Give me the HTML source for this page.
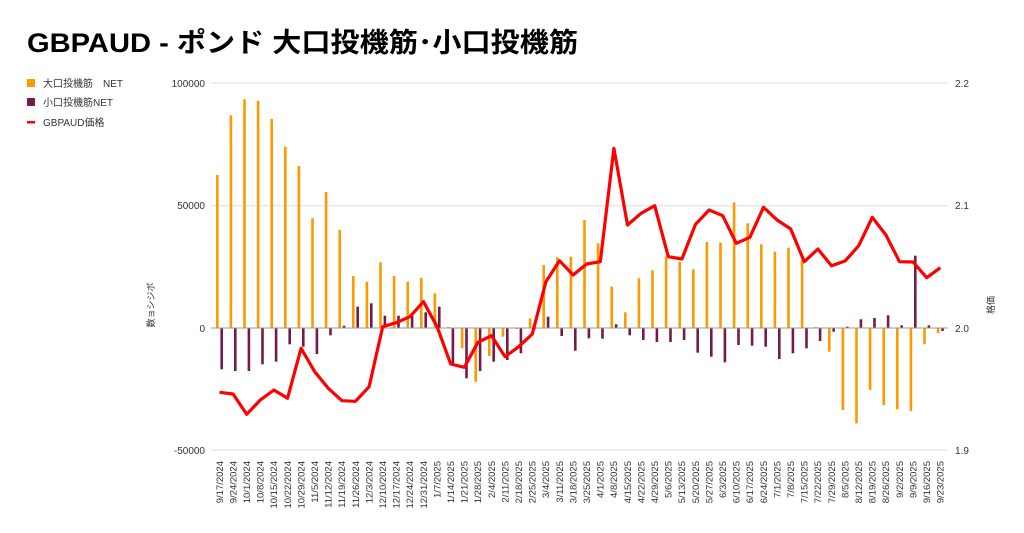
<!DOCTYPE html>
<html><head><meta charset="utf-8"><style>
body{margin:0;background:#fff;}
svg{display:block;font-family:"Liberation Sans","Noto Sans CJK JP",sans-serif;}
</style></head><body>
<svg id="s" width="1024" height="533" viewBox="0 0 1024 533" xmlns="http://www.w3.org/2000/svg">
<rect width="1024" height="533" fill="#fff"/>
<text x="27" y="52" font-size="27" font-weight="bold" fill="#000" textLength="551" lengthAdjust="spacingAndGlyphs">GBPAUD - ポンド 大口投機筋･小口投機筋</text>
<rect x="27" y="79" width="8" height="8" fill="#ff9900"/>
<text x="43" y="87" font-size="10" fill="#333">大口投機筋　NET</text>
<rect x="27" y="98" width="8" height="8" fill="#741b47"/>
<text x="43" y="106" font-size="10" fill="#333">小口投機筋NET</text>
<rect x="27" y="121" width="8" height="2.5" fill="#ff0000"/>
<text x="43" y="126" font-size="10" fill="#333">GBPAUD価格</text>
<g stroke="#ddd" stroke-width="1">
<line x1="211" x2="948" y1="83" y2="83"/>
<line x1="211" x2="948" y1="205.7" y2="205.7"/>
<line x1="211" x2="948" y1="450" y2="450"/>
</g>
<g font-size="10" fill="#333" text-anchor="end">
<text x="205" y="87">100000</text><text x="205" y="209">50000</text><text x="205" y="332">0</text><text x="205" y="454">-50000</text>
</g>
<g font-size="10" fill="#333">
<text x="955" y="87">2.2</text><text x="955" y="209">2.1</text><text x="955" y="332">2.0</text><text x="955" y="454">1.9</text>
</g>
<text transform="translate(154,305) rotate(-90)" font-size="9" fill="#333" text-anchor="middle">数ョシジボ</text>
<text transform="translate(994,305) rotate(-90)" font-size="9" fill="#333" text-anchor="middle">格価</text>
<g id="bars"></g>
<line x1="211" x2="948" y1="328" y2="328" stroke="#999" stroke-width="1"/>
<polyline id="ln" fill="none" stroke="#ff0000" stroke-width="3.2" stroke-linejoin="round"/>
<g id="lab" font-size="9.5" fill="#333" text-anchor="end"></g>
</svg>
<script>
var O=[175,115.3,99.3,100.7,119,146.7,166,218.3,192,230,276,281.7,262.3,276,281.7,277.7,293.3,327,348.3,381.7,356,336.7,329,318.3,265,257.3,256.7,220,243.3,286.7,312.3,278.3,270.3,256.7,262,269.3,242,242.7,202.3,223.3,244.3,251.7,247.7,260,327,351.7,410,423.3,390,405,409.3,411,344.3,333.3];
var P=[369.3,371,371,364.3,361.7,344.3,346.7,354,335.3,325.7,306.7,303.3,315.7,315.7,315.7,312.3,306.7,363.3,378.3,371,361.7,360,353.3,329,316.7,336,350.7,338.3,338.7,324.3,335.3,340,342,342,340,352.7,356.7,362.3,345,345.7,346.7,359,353.3,348.3,341,331.7,326.7,319.3,318,315.3,325.3,255.7,325.3,331];
var L=[392.3,394,414.3,400,390,398.3,348.3,371.7,388.3,400.7,401.3,386.7,326.7,322.7,316.7,301.7,326.7,364,367.3,342.3,335.7,356.7,346.7,334,281.7,260.7,275,264,261.7,148.3,225,213.3,205.7,256.7,259,224.3,210,215.7,243.3,237.3,207.3,220,229,261.7,249,265.7,261,245.7,217.3,235,261.7,262,277.7,267.7];
var ns="http://www.w3.org/2000/svg",b=document.getElementById('bars'),lab=document.getElementById('lab');
var d0=new Date(2024,8,17),pts=[];
function r(x,y,c){var e=document.createElementNS(ns,'rect');var t=Math.min(y,328),h=Math.max(Math.abs(y-328),0.6);e.setAttribute('x',x-1.3);e.setAttribute('y',t);e.setAttribute('width',2.6);e.setAttribute('height',h);e.setAttribute('fill',c);b.appendChild(e);}
for(var i=0;i<54;i++){
 var x=217.3+i*13.6;
 r(x,O[i],'#ff9900');r(x+4.4,P[i],'#741b47');
 pts.push((x+2.2).toFixed(1)+','+L[i]);
 var d=new Date(d0.getTime()+i*7*864e5+36e5*3);
 var t=document.createElementNS(ns,'text');
 t.setAttribute('transform','translate('+(x+5.5).toFixed(1)+',461) rotate(-90)');
 t.textContent=(d.getMonth()+1)+'/'+d.getDate()+'/'+d.getFullYear();
 lab.appendChild(t);
}
document.getElementById('ln').setAttribute('points',pts.join(' '));
</script>
</body></html>
